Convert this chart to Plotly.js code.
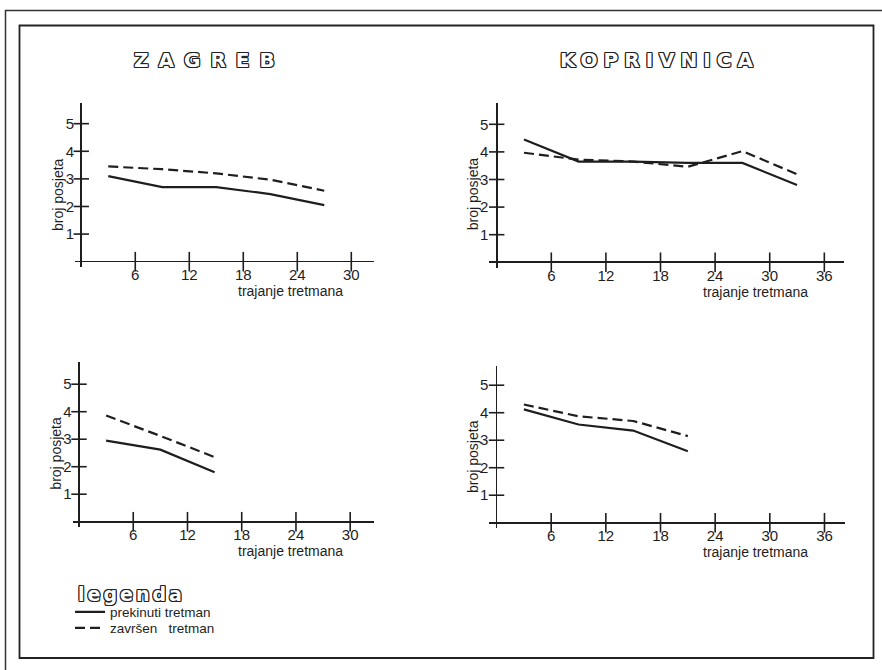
<!DOCTYPE html>
<html>
<head>
<meta charset="utf-8">
<script src="https://cdn.plot.ly/plotly-3.0.1.min.js"></script>
<style>html,body{margin:0;padding:0;background:#fff;}</style>
</head>
<body>
<div id="chart" style="width:882px;height:670px;"></div>
<script>
// ---- data ----
var cityTitles = ['ZAGREB', 'KOPRIVNICA'];
var seriesNames = ['prekinuti tretman', 'završen\u00A0\u00A0\u00A0tretman'];

var zgTopX = [3, 9, 15, 21, 27];
var zgTopSolid = [3.1, 2.7, 2.7, 2.45, 2.05];
var zgTopDashed = [3.45, 3.35, 3.2, 2.97, 2.57];

var kcTopX = [3, 9, 15, 21, 27, 33];
var kcTopSolid = [4.45, 3.65, 3.65, 3.6, 3.6, 2.8];
var kcTopDashed = [3.97, 3.72, 3.65, 3.46, 4.03, 3.19];

var zgBotX = [3, 9, 15];
var zgBotSolid = [2.95, 2.62, 1.8];
var zgBotDashed = [3.86, 3.12, 2.35];

var kcBotX = [3, 9, 15, 21];
var kcBotSolid = [4.12, 3.57, 3.35, 2.6];
var kcBotDashed = [4.3, 3.87, 3.7, 3.15];

var zgTicksX = [6, 12, 18, 24, 30];
var kcTicksX = [6, 12, 18, 24, 30, 36];
var ticksY = [1, 2, 3, 4, 5];

var yTitle = 'broj posjeta';
var xTitle = 'trajanje tretmana';
var legendTitle = 'legenda';

// ---- styles ----
var ink = '#1e1e1e';
var tickFont = {family: 'Liberation Sans Narrow, Liberation Sans, Arial', size: 15, color: ink};
var labelFont = {family: 'Liberation Sans, Arial', size: 14, color: ink};
var legendFont = {family: 'Liberation Sans, Arial', size: 13.5, color: ink};
var outline = '1px 0 0 #222, -1px 0 0 #222, 0 1px 0 #222, 0 -1px 0 #222, 1px 1px 0 #222, -1px -1px 0 #222, 1px -1px 0 #222, -1px 1px 0 #222';

var panels = [
  {xs: zgTopX, s: zgTopSolid, d: zgTopDashed, ticks: zgTicksX, xr: [-0.7, 32.5], yr: [-0.2, 5.75], dx: [0.0850, 0.4238], dy: [0.6012, 0.8463]},
  {xs: kcTopX, s: kcTopSolid, d: kcTopDashed, ticks: kcTicksX, xr: [-0.8, 38.2], yr: [-0.2, 5.78], dx: [0.5549, 0.9573], dy: [0.6003, 0.8466]},
  {xs: zgBotX, s: zgBotSolid, d: zgBotDashed, ticks: zgTicksX, xr: [-0.7, 32.6], yr: [-0.2, 5.8], dx: [0.0824, 0.4237], dy: [0.2131, 0.4594]},
  {xs: kcBotX, s: kcBotSolid, d: kcBotDashed, ticks: kcTicksX, xr: [-0.8, 38.2], yr: [-0.2, 5.7], dx: [0.5547, 0.9575], dy: [0.2116, 0.4538]}
];

var legendBase = {
  x: 0.0794, xanchor: 'left', yanchor: 'middle',
  bgcolor: 'rgba(0,0,0,0)', borderwidth: 0,
  font: legendFont, itemwidth: 30
};

var traces = [];
var layout = {
  width: 882, height: 670,
  margin: {l: 0, r: 0, t: 0, b: 0},
  paper_bgcolor: '#fff', plot_bgcolor: 'rgba(0,0,0,0)',
  showlegend: true,
  legend: Object.assign({}, legendBase, {y: 1 - 612 / 670}),
  legend2: Object.assign({}, legendBase, {y: 1 - 628 / 670}),
  annotations: [],
  shapes: [
    {type: 'line', xref: 'paper', yref: 'paper', x0: 5/882, x1: 1, y0: 1 - 10.5/670, y1: 1 - 10.5/670, line: {color: '#333', width: 1.5}},
    {type: 'line', xref: 'paper', yref: 'paper', x0: 5.5/882, x1: 5.5/882, y0: 0, y1: 1 - 10/670, line: {color: '#333', width: 1.5}},
    {type: 'rect', xref: 'paper', yref: 'paper', x0: 19.5/882, x1: 873.5/882, y0: 1 - 658/670, y1: 1 - 25.5/670, line: {color: '#222', width: 1.8}}
  ]
};

panels.forEach(function (p, i) {
  var n = i === 0 ? '' : String(i + 1);
  var xa = 'x' + n, ya = 'y' + n;
  traces.push({
    x: p.xs, y: p.s, xaxis: xa, yaxis: ya, type: 'scatter', mode: 'lines',
    name: seriesNames[0], showlegend: i === 0, legend: 'legend',
    line: {color: ink, width: 2.2}, hoverinfo: 'skip'
  });
  traces.push({
    x: p.xs, y: p.d, xaxis: xa, yaxis: ya, type: 'scatter', mode: 'lines',
    name: seriesNames[1], showlegend: i === 0, legend: 'legend2',
    line: {color: ink, width: 2.2, dash: '10px,5px'}, hoverinfo: 'skip'
  });
  // crossing tick marks on the axes
  traces.push({
    x: p.ticks, y: p.ticks.map(function () { return 0; }), xaxis: xa, yaxis: ya,
    type: 'scatter', mode: 'markers', showlegend: false, cliponaxis: false, hoverinfo: 'skip',
    marker: {symbol: 'line-ns', size: 14, line: {color: ink, width: 1.6}}
  });
  traces.push({
    x: ticksY.map(function () { return 0; }), y: ticksY, xaxis: xa, yaxis: ya,
    type: 'scatter', mode: 'markers', showlegend: false, cliponaxis: false, hoverinfo: 'skip',
    marker: {symbol: 'line-ew', size: 11, line: {color: ink, width: 1.6}}
  });
  layout['xaxis' + n] = {
    domain: p.dx, range: p.xr, anchor: ya, showgrid: false, showline: false,
    zeroline: true, zerolinecolor: ink, zerolinewidth: 1.6,
    tickmode: 'array', tickvals: p.ticks, ticks: '', tickfont: tickFont, fixedrange: true,
    ticklabelstandoff: -3
  };
  layout['yaxis' + n] = {
    domain: p.dy, range: p.yr, anchor: xa, showgrid: false, showline: false,
    zeroline: true, zerolinecolor: ink, zerolinewidth: 1.6,
    tickmode: 'array', tickvals: ticksY, ticks: '', tickfont: tickFont, fixedrange: true
  };
  var wPx = (p.dx[1] - p.dx[0]) * 882;
  var hPx = (p.dy[1] - p.dy[0]) * 670;
  layout.annotations.push({
    xref: xa + ' domain', yref: ya + ' domain',
    x: -17 / wPx, y: (p.yr[1] - 3.1) / (p.yr[1] - p.yr[0]),
    text: yTitle, textangle: -90, showarrow: false, font: labelFont,
    xanchor: 'center', yanchor: 'middle'
  });
  layout.annotations.push({
    xref: xa + ' domain', yref: ya + ' domain',
    x: (i % 2 === 0 ? 0.722 : 0.75), y: -24 / hPx,
    text: xTitle, showarrow: false, font: labelFont,
    xanchor: 'center', yanchor: 'middle'
  });
});

// panel titles
var titleFont = {family: 'DejaVu Sans', size: 20, color: '#fff', weight: 'bold', shadow: outline};
layout.annotations.push({
  xref: 'paper', yref: 'paper', x: 209 / 882, y: 1 - 60 / 670,
  text: '<span style="letter-spacing:10px">' + cityTitles[0] + '</span>',
  showarrow: false, xanchor: 'center', yanchor: 'middle', font: titleFont
});
layout.annotations.push({
  xref: 'paper', yref: 'paper', x: 659 / 882, y: 1 - 60 / 670,
  text: '<span style="letter-spacing:6px">' + cityTitles[1] + '</span>',
  showarrow: false, xanchor: 'center', yanchor: 'middle', font: titleFont
});
layout.annotations.push({
  xref: 'paper', yref: 'paper', x: 76 / 882, y: 1 - 594 / 670,
  text: '<span style="letter-spacing:3px">' + legendTitle + '</span>',
  showarrow: false, xanchor: 'left', yanchor: 'middle',
  font: {family: 'DejaVu Sans', size: 19, color: '#fff', weight: 'bold', shadow: outline}
});

Plotly.newPlot('chart', traces, layout, {staticPlot: true, displayModeBar: false});
</script>
</body>
</html>
